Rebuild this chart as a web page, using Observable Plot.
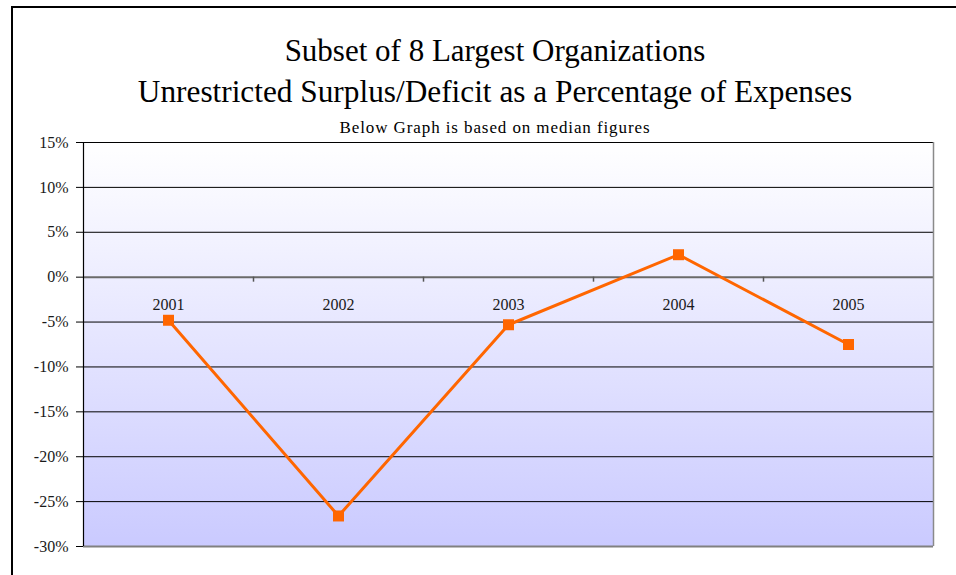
<!DOCTYPE html>
<html>
<head>
<meta charset="utf-8">
<script src="https://cdn.jsdelivr.net/npm/d3@7"></script>
<script src="https://cdn.jsdelivr.net/npm/@observablehq/plot@0.6"></script>
<style>
  html, body { margin: 0; padding: 0; background: #fff; overflow: hidden; }
  #wrap { position: relative; width: 956px; height: 575px; overflow: hidden; font-family: "Liberation Serif", "Times New Roman", Tinos, "DejaVu Serif", serif; }
  #border { position: absolute; left: 11px; top: 6px; width: 1000px; height: 1000px; border: 2px solid #000; box-sizing: border-box; }
  #header { position: relative; height: 120px; }
  .t { position: absolute; left: 0; width: 990px; text-align: center; color: #000; white-space: nowrap; }
  #t1 { top: 35px; font-size: 31px; line-height: 31px; }
  #t2 { top: 76px; font-size: 31.3px; line-height: 31px; }
  #t3 { top: 119px; font-size: 17px; line-height: 17px; letter-spacing: 0.9px; }
  #chart { position: relative; }
  #chart svg { overflow: visible; }
</style>
</head>
<body>
<div id="wrap">
  <div id="border"></div>
  <div id="header">
    <div class="t" id="t1"></div>
    <div class="t" id="t2"></div>
    <div class="t" id="t3"></div>
  </div>
  <div id="chart"></div>
</div>
<script>
const titleLine1 = "Subset of 8 Largest Organizations";
const titleLine2 = "Unrestricted Surplus/Deficit as a Percentage of Expenses";
const subtitle = "Below Graph is based on median figures";

const years = ["2001", "2002", "2003", "2004", "2005"];
const values = [-4.8, -26.6, -5.3, 2.5, -7.5];
const yTicks = [-30, -25, -20, -15, -10, -5, 0, 5, 10, 15];

document.getElementById("t1").textContent = titleLine1;
document.getElementById("t2").textContent = titleLine2;
document.getElementById("t3").textContent = subtitle;

const data = years.map((y, i) => ({year: y, idx: i + 0.5, value: values[i]}));
const boundaries = d3.range(0, years.length + 1);

const chart = Plot.plot({
  width: 956,
  height: 455,
  marginLeft: 83,
  marginRight: 23,
  marginTop: 22,
  marginBottom: 29,
  x: {domain: [0, years.length], axis: null},
  y: {domain: [-30, 15], axis: null},
  style: {fontFamily: "'Liberation Serif', 'Times New Roman', Tinos, 'DejaVu Serif', serif", fontSize: "16px", color: "#1a1a1a", background: "transparent"},
  marks: [
    Plot.frame({fill: "url(#bg)", stroke: null}),
    Plot.gridY(yTicks.filter(d => d !== 0 && d !== -30), {stroke: "#000", strokeOpacity: 1, strokeWidth: 1}),
    Plot.ruleY([-30], {stroke: "#808080", strokeWidth: 2}),
    Plot.ruleY([0], {stroke: "#6a6a6a", strokeWidth: 2}),
    Plot.ruleX(boundaries.slice(1, -1), {y1: 0, y2: 0, insetBottom: -5, stroke: "#555", strokeWidth: 1.5}),
    Plot.ruleX([years.length], {stroke: "#8a8a8a", strokeWidth: 1.5}),
    Plot.ruleX([0], {stroke: "#000", strokeWidth: 1.2}),
    Plot.axisY(yTicks, {tickSize: 7, tickPadding: 8, tickFormat: d => d + "%", fontSize: 16, label: null, stroke: "#000", strokeOpacity: 1, fill: "#1a1a1a"}),
    Plot.text(data, {x: "idx", y: 0, dy: 28, text: "year", fontSize: 16, fill: "#1a1a1a"}),
    Plot.line(data, {x: "idx", y: "value", stroke: "#ff6600", strokeWidth: 3}),
    Plot.dot(data, {x: "idx", y: "value", symbol: "square", r: 6.2, fill: "#ff6600", stroke: null})
  ]
});

const ns = "http://www.w3.org/2000/svg";
const defs = document.createElementNS(ns, "defs");
const grad = document.createElementNS(ns, "linearGradient");
grad.setAttribute("id", "bg");
grad.setAttribute("x1", "0"); grad.setAttribute("y1", "0");
grad.setAttribute("x2", "0"); grad.setAttribute("y2", "1");
[["0", "#ffffff"], ["1", "#cacaff"]].forEach(([o, c]) => {
  const s = document.createElementNS(ns, "stop");
  s.setAttribute("offset", o);
  s.setAttribute("stop-color", c);
  grad.appendChild(s);
});
defs.appendChild(grad);
chart.insertBefore(defs, chart.firstChild);
document.getElementById("chart").appendChild(chart);
</script>
</body>
</html>
